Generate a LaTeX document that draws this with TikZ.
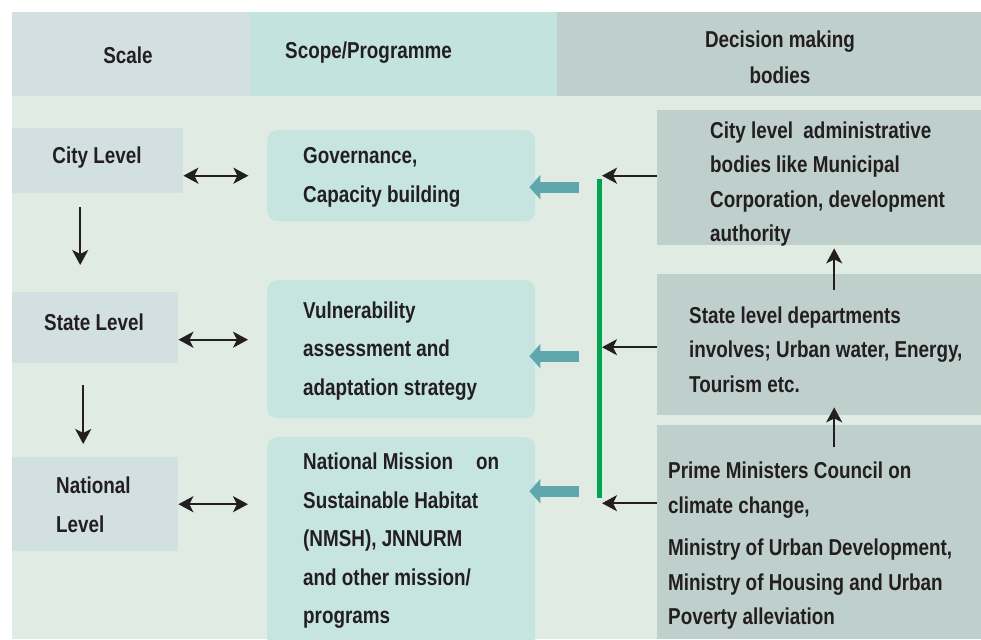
\documentclass[tikz,border=0pt]{standalone}
\usepackage{fontspec}
\setmainfont{Liberation Sans}[FakeStretch=0.82]
\usetikzlibrary{arrows.meta,calc}

\definecolor{scalecol}{HTML}{D3E0E1}
\definecolor{scopecol}{HTML}{C3E3DF}
\definecolor{bodycol}{HTML}{E0EBE4}
\definecolor{boxcol}{HTML}{C6E5E0}
\definecolor{deccol}{HTML}{BECFCC}
\definecolor{tealcol}{HTML}{5EA8AD}
\definecolor{buscol}{HTML}{00A550}
\definecolor{inkcol}{HTML}{231F20}

\tikzset{
  cell/.style   = {anchor=north west, inner sep=0pt, draw=none},
  txt/.style    = {text=inkcol, align=left, inner sep=0pt, yshift=-3pt,
                   font=\bfseries\fontsize{23}{38.5}\selectfont},
  rtxt/.style   = {txt, font=\bfseries\fontsize{23}{34.5}\selectfont},
  blk/.style    = {draw=inkcol, line width=2.2pt,
                   -{Stealth[length=15pt,width=16pt,inset=4pt]}},
  dbl/.style    = {draw=inkcol, line width=2.2pt,
                   {Stealth[length=15pt,width=16pt,inset=4pt]}-{Stealth[length=15pt,width=16pt,inset=4pt]}},
  teal/.style   = {draw=tealcol, line width=11pt,
                   -{Triangle[length=11pt,width=24pt]}},
  bus/.style    = {draw=buscol, line width=5pt}
}

\begin{document}
\begin{tikzpicture}[x=1pt,y=-1pt]
	\clip (0,0) rectangle (981,639);
	\fill[white] (0,0) rectangle (981,639);

	% header row
	\node (hScale) at (12,12)  [cell, fill=scalecol, minimum width=238, minimum height=84] {};
	\node (hScope) at (250,12) [cell, fill=scopecol, minimum width=307, minimum height=84] {};
	\node (hDec)   at (557,12) [cell, fill=deccol,   minimum width=424, minimum height=84] {};
	\node (tScale) at (128,52) [txt] {Scale};
	\node (tScope) at (285,50) [txt, anchor=west] {Scope/Programme};
	\node (tDec)   at (780,54) [txt, align=center, font=\bfseries\fontsize{23}{36}\selectfont] {Decision making\\bodies};

	% body
	\fill[bodycol] (12,96) rectangle (981,639);

	% scale column
	\node (City)     at (12,128) [cell, fill=scalecol, minimum width=171, minimum height=65] {};
	\node (State)    at (12,292) [cell, fill=scalecol, minimum width=166, minimum height=71] {};
	\node (National) at (12,457) [cell, fill=scalecol, minimum width=166, minimum height=94] {};
	\node (tCity)     at (97,155) [txt] {City Level};
	\node (tState)    at (94,319) [txt] {State Level};
	\node (tNational) at (56,502) [txt, anchor=west] {National\\Level};

	% scope column
	\node (S1) at (267,130) [cell, fill=boxcol, rounded corners=10pt, minimum width=268, minimum height=91] {};
	\node (S2) at (267,280) [cell, fill=boxcol, rounded corners=10pt, minimum width=268, minimum height=138] {};
	\node (S3) at (267,437) [cell, fill=boxcol, rounded corners=10pt, minimum width=268, minimum height=215] {};
	\node (tS1) at (303,174.5) [txt, anchor=west] {Governance,\\Capacity building};
	\node (tS2) at (303,348)   [txt, anchor=west] {Vulnerability\\assessment and\\adaptation strategy};
	\node (tS3) at (303,538)   [txt, anchor=west] {National Mission\quad on\\Sustainable Habitat\\(NMSH), JNNURM\\and other mission/\\programs};

	% decision making bodies
	\node (R1) at (657,110) [cell, fill=deccol, minimum width=324, minimum height=135] {};
	\node (R2) at (657,274) [cell, fill=deccol, minimum width=324, minimum height=141] {};
	\node (R3) at (657,425) [cell, fill=deccol, minimum width=324, minimum height=214] {};
	\node (tR1) at (710,181)   [rtxt, anchor=west] {City level\ \ administrative\\bodies like Municipal\\Corporation, development\\authority};
	\node (tR2) at (689,346.5) [rtxt, anchor=west] {State level departments\\involves; Urban water, Energy,\\Tourism etc.};
	\node (tR3) at (668,543)   [rtxt, anchor=west] {Prime Ministers Council on\\climate change,\\[8pt]Ministry of Urban Development,\\Ministry of Housing and Urban\\Poverty alleviation};

	% green bus
	\coordinate (busTop) at (599,179);
	\coordinate (busBot) at (599,498);
	\draw[bus] (busTop) -- (busBot);

	% scale arrows
	\draw[blk] ($(City.south)+(-17.5,14)$) -- ($(State.north)+(-15,-27)$);
	\draw[blk] ($(State.south)+(-12,22)$) -- ($(National.north)+(-12,-13)$);
	\draw[dbl] (City.east |- S1.west) -- ($(City.east |- S1.west)+(65,0)$);
	\draw[dbl] ($(State.east)+(0,12)$) -- ($(State.east -| S2.west)+(-19,12)$);
	\draw[dbl] (National.east) -- ($(National.east -| S3.west)+(-19,0)$);

	% bodies to bus
	\draw[blk] ($(R1.west)+(0,-2)$) -- ($(R1.west -| busTop)+(3,-2)$);
	\draw[blk] ($(R2.west)+(0,2.5)$) -- ($(R2.west -| busTop)+(3,2.5)$);
	\draw[blk] ($(R3.west)+(0,-29)$) -- ($(R3.west -| busTop)+(3,-29)$);
	\draw[blk] ($(R2.north)+(15,16)$) -- ($(R1.south)+(15,3)$);
	\draw[blk] ($(R3.north)+(15,22)$) -- ($(R2.south)+(15,-8)$);

	% bus to scope
	\draw[teal] ($(S1.east)+(44,11.5)$) -- ($(S1.east)+(-6,11.5)$);
	\draw[teal] ($(S2.east)+(44,7)$)    -- ($(S2.east)+(-6,7)$);
	\draw[teal] ($(S3.east)+(44,-53.5)$) -- ($(S3.east)+(-6,-53.5)$);
\end{tikzpicture}
\end{document}
